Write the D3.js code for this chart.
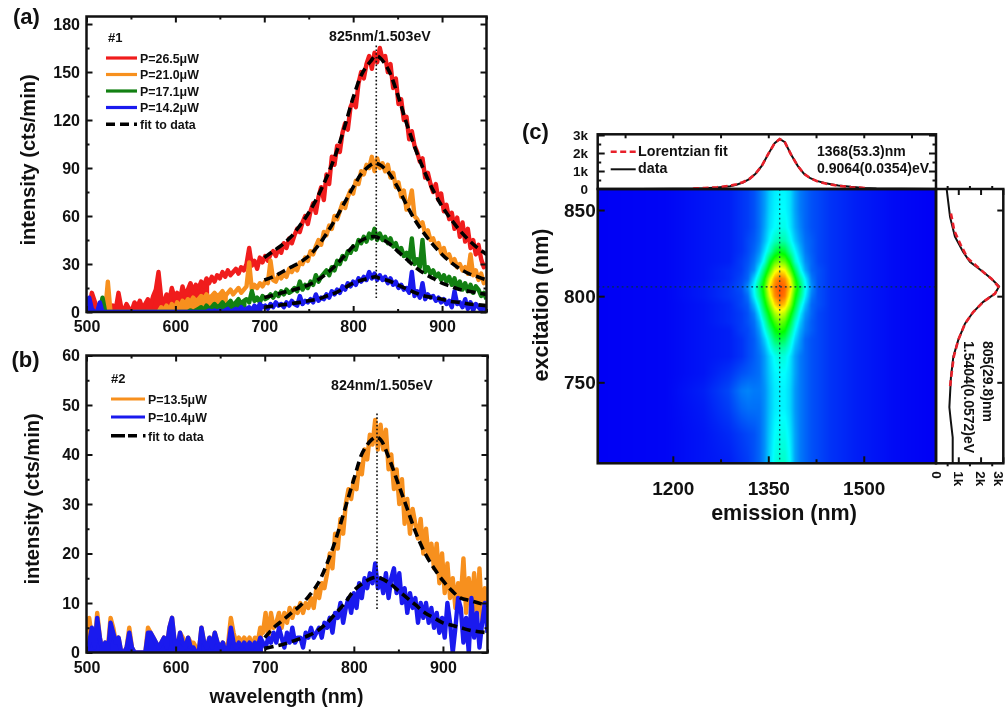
<!DOCTYPE html>
<meta charset="utf-8">
<style type="text/css">
html, body { margin: 0; padding: 0; background: #fff; overflow: hidden; }
svg { display: block; filter: blur(0.6px); }
text { font-family: "Liberation Sans", Arial, sans-serif; font-weight: bold; fill: #111; }
.axis path.domain { display: none; }
.axis line { stroke: #111; stroke-width: 2px; }
.frame { fill: none; stroke: #111; stroke-width: 2.5px; }
.noisy { fill: none; stroke-width: 4.4px; stroke-linejoin: round; }
.fit { fill: none; stroke: #000; stroke-width: 3.6px; stroke-dasharray: 9 5; }
.dotted { fill: none; stroke: #111; stroke-width: 1.6px; stroke-dasharray: 1.6 2.2; }
</style>
<body>
<script src="https://cdn.jsdelivr.net/npm/d3@7"></script>
<script>

// wavelengths of the measured spectra, every 3 nm from 500 to 950
var wavelengths = d3.range(500, 951, 3);
var fitWavelengths = [700,710,720,730,740,750,760,770,780,790,800,810,820,825,830,840,850,860,870,880,890,900,910,920,930,940,950];

// panel (a)
var red265 = [
  0,3,12,7,2,5,1,6,3,1,
  4,2,12,3,1,5,2,1,6,3,
  7,2,5,8,4,10,14,25,9,6,
  11,7,15,9,12,7,16,10,14,18,
  13,17,15,19,16,21,18,22,19,23,
  21,25,22,26,23,25,27,24,28,26,
  30,40,29,32,27,34,31,35,32,36,
  38,35,40,37,43,40,46,43,48,52,
  50,56,60,55,63,68,62,72,78,70,
  86,80,97,92,104,100,112,118,114,128,
  132,128,143,150,146,155,160,152,162,156,
  165,158,160,150,155,140,146,130,133,120,
  122,108,113,104,100,94,96,84,87,80,
  75,80,70,74,63,67,58,62,52,59,
  47,56,44,52,40,45,36,42,33,28,
  30];
var orange210 = [
  0,0,0,0,0,0,0,0,19,0,
  0,0,0,0,0,0,0,0,0,0,
  0,0,0,0,0,0,0,0,3,1,
  4,1,5,2,6,3,7,5,8,6,
  9,7,8,10,8,11,9,10,12,10,
  11,13,10,12,14,11,13,15,12,14,
  16,31,14,17,15,18,16,19,18,32,
  20,19,23,21,24,22,27,25,28,26,
  31,30,34,32,38,36,41,45,42,50,
  48,54,52,60,58,63,68,65,72,76,
  74,82,80,88,86,92,90,97,88,96,
  90,93,88,92,84,87,78,81,72,76,
  64,68,76,60,58,54,56,49,51,45,
  46,41,43,37,40,34,36,31,33,28,
  30,26,28,24,36,23,26,20,24,18,
  19];
var green171 = [
  0,0,0,0,0,0,9,0,0,0,
  0,0,0,0,0,0,0,0,0,0,
  0,0,0,0,0,0,0,0,0,0,
  0,0,0,0,0,0,0,0,0,1,
  0,1,2,3,1,4,2,3,5,3,
  4,6,3,5,7,4,6,8,5,7,
  8,6,13,7,9,6,10,8,9,11,
  9,12,10,13,11,14,12,13,15,13,
  19,14,17,15,19,17,23,19,22,24,
  26,23,28,26,32,30,35,33,38,37,
  41,39,45,43,47,44,49,46,52,45,
  49,45,47,43,46,41,43,38,40,35,
  37,32,46,30,33,28,45,25,28,24,
  26,22,24,20,23,19,22,17,21,15,
  19,14,18,13,17,12,16,14,10,12,
  8];
var blue142 = [
  0,9,2,0,0,6,0,0,0,0,
  0,0,0,0,0,0,0,0,0,0,
  0,0,0,0,0,0,0,0,0,0,
  0,0,0,0,0,0,0,0,0,0,
  0,0,0,0,0,0,1,0,1,0,
  1,0,1,2,0,1,2,1,3,1,
  2,3,1,4,2,5,3,4,2,5,
  3,6,4,5,3,6,4,7,5,4,
  10,5,7,6,8,6,11,7,9,8,
  11,9,13,11,14,12,16,14,18,16,
  19,17,21,19,22,20,25,21,24,20,
  23,20,22,18,21,17,19,15,17,14,
  15,12,25,10,13,9,18,8,11,9,
  10,7,9,6,8,5,7,3,13,5,
  6,3,8,2,6,1,5,3,1,3,
  1];
var fitRed = [34,38,42,47,54,62,72,84,98,115,134,149,157,160,159,151,136,118,102,88,76,66,58,51,45,40,36];
var fitOrange = [20,22,25,28,31,35,41,49,58,68,78,87,92,93,92,87,78,67,57,49,42,36,31,27,24,22,20];
var fitGreen = [9,10.5,12,13.5,15,17,20,24,29,35,41,45,47,47,46,43,38,33,28,24,21,18,16,14,13,12,11];
var fitBlue = [3,3.8,4.5,5.2,6,7,8,10,12,15,18,20,21.5,22,21,19.5,17,14.5,12,10,9,8,6.5,6,5,4.5,4];

// panel (b)
var orange135 = [
  0,7,3,1,8,3,0,2,1,7,
  5,2,3,0,0,1,5,1,0,0,
  0,0,0,5,4,3,2,1,2,3,
  1,5,7,2,1,4,3,1,3,2,
  2,1,0,5,2,1,3,2,4,2,
  1,2,1,2,7,4,2,3,2,3,
  2,3,1,3,2,5,4,8,3,8,
  5,6,8,5,8,6,9,7,9,8,
  10,8,10,9,11,9,13,11,14,13,
  16,20,17,24,21,27,24,30,33,31,
  35,33,38,36,41,39,44,42,47,41,
  46,41,45,37,40,33,37,30,35,26,
  31,24,29,26,23,27,20,25,19,22,
  17,22,14,20,12,18,11,15,9,14,
  11,19,8,15,9,16,7,17,6,13,
  10];
var blue104 = [
  0,2,5,1,7,3,0,2,0,6,
  4,2,3,0,0,1,4,1,0,0,
  0,0,0,4,4,3,2,1,2,3,
  1,5,7,2,1,4,2,1,3,1,
  1,0,0,5,2,1,3,1,4,2,
  1,2,0,1,5,2,1,2,1,2,
  1,2,1,2,1,3,2,1,3,2,
  4,2,5,3,1,4,2,5,2,3,
  3,1,4,3,5,3,4,5,3,6,
  5,7,4,8,7,10,6,9,11,8,
  12,9,14,11,15,13,16,14,18,13,
  15,12,16,11,15,17,12,16,10,13,
  8,12,9,11,6,10,7,10,6,9,
  5,8,4,7,3,10,6,0,5,11,
  9,2,7,0,11,3,8,1,6,10,
  4];
var fitOrangeB = [3,5,6.5,8,9.5,11.5,14,18,23,29,35,40.5,43,43.5,43,39,34,29,24,20,17,14.5,12.5,11,10.5,10,9.5];
var fitBlueB = [0.8,1.2,1.6,2.2,2.8,3.5,4.5,6,8,10,12.5,14,15,15.2,15,14,12.5,11,9.5,8,7,6,5.5,5,4.5,4.2,4];

// panel (c) line profiles, counts in thousands
var emissionPoints = [1100,1150,1200,1230,1250,1270,1290,1300,1310,1320,1330,1340,1350,1360,1368,1376,1386,1396,1406,1416,1426,1440,1460,1480,1500,1520,1560,1610];
var emissionData = [0,0,0.01,0.02,0.04,0.08,0.15,0.24,0.36,0.55,0.85,1.3,1.95,2.55,2.78,2.6,1.9,1.3,0.85,0.6,0.45,0.32,0.2,0.12,0.06,0.03,0.01,0];
var fitEmissionPoints = [1232,1250,1270,1290,1300,1310,1320,1330,1340,1350,1360,1368,1376,1386,1396,1406,1416,1426,1440,1460,1480,1505];
var fitEmission = [0.03,0.05,0.1,0.18,0.27,0.38,0.55,0.85,1.3,1.95,2.55,2.78,2.6,1.9,1.3,0.85,0.6,0.44,0.3,0.18,0.1,0.05];
var excitationPoints = [862,846,834.5,825.7,820,814,810,805.6,801.5,796.7,790.8,784,774.6,765,753,735.5,728,718,703];
var excitationData = [0.48,0.63,0.85,1.22,1.52,2.12,2.5,2.83,2.65,2.12,1.67,1.3,1,0.78,0.67,0.6,0.66,0.75,0.75];
var fitExcitationPoints = [848,838,830,822,814,810,805.6,801.5,796.7,790.8,784,774.6,765,755,746];
var fitExcitation = [0.67,0.82,1.1,1.42,2.12,2.5,2.8,2.65,2.12,1.67,1.3,1,0.8,0.7,0.62];

// panel (c) map, one row per excitation wavelength, one value per emission wavelength
var emissionGrid = [1088,1188,1248,1288,1308,1318,1328,1336,1344,1352,1360,1368,1376,1384,1392,1400,1408,1418,1428,1448,1488,1548,1608];
var excitationGrid = [865,850,840,832,826,820,815,810,805,800,795,790,785,780,775,770,765,755,745,735,720,705];
var heatRows = [
  [0,.5,2,3,5,6,8,11,15,20,23,24,24,22,16,12,10,8,7,5,3,1,0],
  [0,.5,2,3,5,6,8,11,15,21,24,25,25,22,16,12,10,8,7,5,3,1,0],
  [0,.5,2,3,5,6,8,11,16,22,25,27,27,23,17,13,10,8,7,5,3,1,0],
  [0,.5,2,3,5,7,9,12,18,25,31,34,33,27,20,15,11,9,7,5,3,1,0],
  [0,.5,2,3,5,7,10,14,22,31,42,48,45,34,25,18,12,9,7,5,3,1,0],
  [0,.5,2,3,6,8,12,18,28,46,58,63,60,48,30,22,14,10,7,5,3,1,0],
  [0,.5,2,4,6,9,14,25,40,56,72,78,75,60,42,27,17,10,8,5,3,1,0],
  [0,.5,2,4,7,10,21,33,50,70,84,89,86,74,52,36,24,12,8,5,3,1,0],
  [0,.5,2.5,5,8,14,26,40,56,78,88,92,90,80,58,42,27,14,8,5,3,1,0],
  [0,.5,2.5,5,7,11,24,36,52,72,86,91,88,74,52,38,24,12,8,5,3,1,0],
  [0,.5,2,4,7,9,18,29,46,62,78,84,80,66,46,30,19,10,8,5,3,1,0],
  [0,.5,2,4,6,8,13,23,38,52,66,72,68,54,38,24,15,10,7,5,3,1,0],
  [0,.5,2,4,6,8,11,18,30,45,56,62,58,46,30,20,13,9,7,5,3,1,0],
  [0,.5,2,3,6,7,10,15,25,36,48,53,50,38,25,17,12,9,7,5,3,1,0],
  [0,.5,2,3,5,7,9,13,20,29,40,44,41,31,21,15,10,8,7,5,3,1,0],
  [0,.5,2,3,5,7,9,12,17,25,32,35,33,27,18,14,10,8,7,5,3,1,0],
  [0,.5,2,3,5,7,9,11,15,21,26,29,28,23,16,12,10,8,7,5,3,1,0],
  [0,.5,2,5,8,9,10,11,15,20,24,25,25,22,16,12,10,8,7,5,3,1,0],
  [0,.5,3,7,12,13,12,12,14,19,23,24,24,21,15,12,10,8,7,5,3,1,0],
  [0,.5,2.5,6,10,11,11,11,14,19,23,24,24,21,15,12,10,8,7,5,3,1,0],
  [0,.5,2,4,6,7,8,10,14,20,25,27,27,23,16,12,10,8,7,5,3,1,0],
  [0,.5,2,3,5,6,8,10,14,21,27,30,30,25,16,12,10,8,7,5,3,1,0]
];

var svg = d3.select("body").append("svg")
    .attr("width", 1006)
    .attr("height", 711);

var defs = svg.append("defs");

function addClip(id, x, y, w, h) {
  defs.append("clipPath").attr("id", id)
    .append("rect").attr("x", x).attr("y", y).attr("width", w).attr("height", h);
}

// one set of ticks pointing into the frame: majors may carry labels, minors never do
function drawTicks(axisFn, scale, major, minor, pos, opts) {
  opts = opts || {};
  var horizontal = (axisFn === d3.axisBottom || axisFn === d3.axisTop);
  var tr = horizontal ? "translate(0," + pos + ")" : "translate(" + pos + ",0)";
  var g = svg.append("g").attr("class", "axis").attr("transform", tr);
  var ax = axisFn(scale).tickValues(major).tickSize(-(opts.size || 6)).tickPadding(opts.padding || 6);
  if (opts.format) ax.tickFormat(opts.format); else ax.tickFormat("");
  g.call(ax);
  g.selectAll("text").style("font-size", (opts.font || 16) + "px");
  if (minor) {
    var g2 = svg.append("g").attr("class", "axis").attr("transform", tr);
    g2.call(axisFn(scale).tickValues(minor).tickSize(-(opts.minorSize || 3)).tickFormat(""));
  }
  return g;
}

function spectrumPanel(x, y, xMinor, yMajor, yMinor, clipId) {
  var r = x.range(), t = y.range();
  addClip(clipId, r[0], t[1], r[1] - r[0], t[0] - t[1]);
  var plot = svg.append("g").attr("clip-path", "url(#" + clipId + ")");
  drawTicks(d3.axisBottom, x, [500,600,700,800,900], xMinor, t[0], {format: d3.format("d"), padding: 9});
  drawTicks(d3.axisTop, x, [500,600,700,800,900], xMinor, t[1]);
  drawTicks(d3.axisLeft, y, yMajor, yMinor, r[0], {format: d3.format("d"), padding: 6.5});
  drawTicks(d3.axisRight, y, yMajor, yMinor, r[1]);
  svg.append("rect").attr("class", "frame")
    .attr("x", r[0]).attr("y", t[1]).attr("width", r[1] - r[0]).attr("height", t[0] - t[1]);
  return plot;
}

// the dense low-count noise reads as a solid block in the original
function drawNoisy(plot, x, y, values, color, fillTo) {
  var pts = d3.zip(wavelengths, values);
  var line = d3.line().x(function(d) { return x(d[0]); }).y(function(d) { return y(d[1]); });
  if (fillTo) {
    var area = d3.area().x(function(d) { return x(d[0]); }).y0(y(0)).y1(function(d) { return y(d[1]); })
        .defined(function(d) { return d[0] <= fillTo; });
    plot.append("path").attr("fill", color).attr("d", area(pts));
  }
  plot.append("path").attr("class", "noisy").attr("stroke", color).attr("d", line(pts));
}

function addLabel(x, y, str, size, anchor, rotate) {
  var tx = svg.append("text").attr("text-anchor", anchor || "start").style("font-size", size + "px").text(str);
  if (rotate) tx.attr("transform", "translate(" + x + "," + y + ") rotate(" + rotate + ")");
  else tx.attr("x", x).attr("y", y);
  return tx;
}

function legendLine(x1, x2, y, color, cls) {
  var l = svg.append("line").attr("x1", x1).attr("x2", x2).attr("y1", y).attr("y2", y);
  if (cls) l.attr("class", cls).style("fill", "none");
  else l.attr("stroke", color).attr("stroke-width", 3.2);
  return l;
}

// ---- panel (a)
var xA = d3.scaleLinear().domain([500, 950]).range([86.5, 486.5]);
var yA = d3.scaleLinear().domain([0, 184.7]).range([312, 16.5]);
var plotA = spectrumPanel(xA, yA, [550,650,750,850,950], [0,30,60,90,120,150,180], [15,45,75,105,135,165], "clipA");

var lineA = d3.line().x(function(d) { return xA(d[0]); }).y(function(d) { return yA(d[1]); });
var fitA = d3.line().curve(d3.curveCatmullRom).x(function(d) { return xA(d[0]); }).y(function(d) { return yA(d[1]); });

drawNoisy(plotA, xA, yA, red265, "#f01c1c", 640);
drawNoisy(plotA, xA, yA, orange210, "#f7901e", 660);
drawNoisy(plotA, xA, yA, green171, "#128012", 680);
drawNoisy(plotA, xA, yA, blue142, "#1a1aee", 700);
[fitRed, fitOrange, fitGreen, fitBlue].forEach(function(f) {
  plotA.append("path").attr("class", "fit").attr("d", fitA(d3.zip(fitWavelengths, f)));
});
plotA.append("path").attr("class", "dotted").attr("d", lineA([[826, 8.75], [826, 167]]));

addLabel(13, 24, "(a)", 22);
addLabel(35, 160, "intensity (cts/min)", 20, "middle", -90);
addLabel(108, 42.3, "#1", 13);
addLabel(329, 40.5, "825nm/1.503eV", 14.2);
["P=26.5\u03bcW", "P=21.0\u03bcW", "P=17.1\u03bcW", "P=14.2\u03bcW"].forEach(function(t, i) {
  var ly = 58 + i * 16.5;
  legendLine(106, 137, ly, ["#f01c1c", "#f7901e", "#128012", "#1a1aee"][i]);
  addLabel(140, ly + 4.8, t, 12.4);
});
legendLine(106, 137, 124.3, null, "fit");
addLabel(140, 129, "fit to data", 12.4);

// ---- panel (b)
var xB = d3.scaleLinear().domain([500, 950]).range([86.5, 487.5]);
var yB = d3.scaleLinear().domain([0, 60]).range([652.5, 355.5]);
var plotB = spectrumPanel(xB, yB, [550,650,750,850,950], [0,10,20,30,40,50,60], [5,15,25,35,45,55], "clipB");

var lineB = d3.line().x(function(d) { return xB(d[0]); }).y(function(d) { return yB(d[1]); });
var fitB = d3.line().curve(d3.curveCatmullRom).x(function(d) { return xB(d[0]); }).y(function(d) { return yB(d[1]); });

drawNoisy(plotB, xB, yB, orange135, "#f7901e", 700);
drawNoisy(plotB, xB, yB, blue104, "#1a1aee", 700);
[fitOrangeB, fitBlueB].forEach(function(f) {
  plotB.append("path").attr("class", "fit").attr("d", fitB(d3.zip(fitWavelengths, f)));
});
plotB.append("path").attr("class", "dotted").attr("d", lineB([[826, 8.8], [826, 48.6]]));

addLabel(11.5, 366.7, "(b)", 22);
addLabel(39, 499, "intensity (cts/min)", 20, "middle", -90);
addLabel(286.5, 703, "wavelength (nm)", 19.5, "middle");
addLabel(111, 383, "#2", 13);
addLabel(331, 390, "824nm/1.505eV", 14.2);
legendLine(111, 145, 399, "#f7901e");
addLabel(148, 403.8, "P=13.5\u03bcW", 12.4);
legendLine(111, 145, 417, "#1a1aee");
addLabel(148, 421.8, "P=10.4\u03bcW", 12.4);
legendLine(111, 145.5, 435.7, null, "fit").style("stroke-dasharray", "14 3 9 6 3");
addLabel(148, 440.5, "fit to data", 12.4);

// ---- panel (c)
var xC = d3.scaleLinear().domain([1082, 1613.5]).range([597.7, 936]);
var yC = d3.scaleLinear().domain([703, 862.2]).range([463.3, 189]);
var yTop = d3.scaleLinear().domain([0, 3.04]).range([189, 134.3]);
var xRight = d3.scaleLinear().domain([0, 3.02]).range([936, 1003.3]);

var heatColor = d3.scaleLinear().domain([0, 25, 50, 75, 100])
    .range(["#0000f5", "#00ffff", "#00ff00", "#ffff00", "#ff0000"]);

// the grid is uneven, so look up each pixel's place in it and shade between the four nearest values
var colIndex = d3.scaleLinear().domain(emissionGrid).range(d3.range(emissionGrid.length)).clamp(true);
var rowIndex = d3.scaleLinear().domain(excitationGrid).range(d3.range(excitationGrid.length)).clamp(true);
var heatW = 338, heatH = 274;
var cv = document.createElement("canvas");
cv.width = heatW;
cv.height = heatH;
var ctx = cv.getContext("2d");
for (var py = 0; py < heatH; py++) {
  var fy = rowIndex(yC.invert(189 + py + 0.5));
  var j = Math.min(Math.floor(fy), excitationGrid.length - 2), ty = fy - j;
  for (var px = 0; px < heatW; px++) {
    var fx = colIndex(xC.invert(597.7 + px + 0.5));
    var i = Math.min(Math.floor(fx), emissionGrid.length - 2), tx = fx - i;
    var v = (heatRows[j][i] * (1 - tx) + heatRows[j][i + 1] * tx) * (1 - ty)
          + (heatRows[j + 1][i] * (1 - tx) + heatRows[j + 1][i + 1] * tx) * ty;
    ctx.fillStyle = heatColor(v);
    ctx.fillRect(px, py, 1, 1);
  }
}

svg.append("image")
    .attr("href", cv.toDataURL())
    .attr("preserveAspectRatio", "none")
    .attr("x", 597.7)
    .attr("y", 189)
    .attr("width", heatW)
    .attr("height", heatH);

svg.append("path").attr("class", "dotted").style("stroke-width", "1.1px").style("stroke-dasharray", "1.8 3").style("stroke", "#003a4a")
    .attr("d", d3.line()([[xC(1368), 189], [xC(1368), 463.3]]));
svg.append("path").attr("class", "dotted").style("stroke-width", "1.1px").style("stroke-dasharray", "1.8 3").style("stroke", "#00304a")
    .attr("d", d3.line()([[597.7, yC(805.4)], [936, yC(805.4)]]));

var kFormat = function(d) { return d === 0 ? "0" : d + "k"; };
var emMajor = [1125,1200,1275,1350,1425,1500,1575];

// top strip
drawTicks(d3.axisLeft, yTop, [1,2,3], [0.5,1.5,2.5], 597.7, {size: 7, minorSize: 3.5});
drawTicks(d3.axisRight, yTop, [1,2,3], [0.5,1.5,2.5], 936, {size: 7, minorSize: 3.5});
drawTicks(d3.axisTop, xC, emMajor, null, 134.3, {size: 4});
svg.append("rect").attr("class", "frame").attr("x", 597.7).attr("y", 134.3).attr("width", 338.3).attr("height", 54.7);
var topLabels = svg.append("g").attr("class", "axis").attr("transform", "translate(588,0)")
    .call(d3.axisLeft(yTop).tickValues([0,1,2,3]).tickSize(0).tickPadding(0).tickFormat(kFormat));
topLabels.selectAll("text").style("font-size", "13.5px");

var lineTop = d3.line().x(function(d) { return xC(d[0]); }).y(function(d) { return yTop(d[1]); });
svg.append("path").attr("fill", "none").attr("stroke", "#111").attr("stroke-width", 2)
    .attr("d", lineTop(d3.zip(emissionPoints, emissionData)));
svg.append("path").attr("fill", "none").attr("stroke", "#e8202a").attr("stroke-width", 2.6).attr("stroke-dasharray", "6 3.5")
    .attr("d", lineTop(d3.zip(fitEmissionPoints, fitEmission)));

// map frame
drawTicks(d3.axisBottom, xC, [1200,1350,1500], [1275,1425], 463.3, {format: d3.format("d"), padding: 18, font: 19, size: 7, minorSize: 4});
drawTicks(d3.axisLeft, yC, [750,800,850], null, 597.7, {format: d3.format("d"), padding: 2, font: 19, size: 7});
svg.append("rect").attr("class", "frame").attr("x", 597.7).attr("y", 189).attr("width", 338.3).attr("height", 274.3);

// right strip
drawTicks(d3.axisRight, yC, [750,800,850], null, 1003.3, {size: 6});
drawTicks(d3.axisTop, xRight, [1,2,3], [0.5,1.5,2.5], 463.3, {size: 6, minorSize: 3}).selectAll("line").attr("transform", "scale(1,-1)");
drawTicks(d3.axisBottom, xRight, [1,2,3], [0.5,1.5,2.5], 189, {size: 6, minorSize: 3}).selectAll("line").attr("transform", "scale(1,-1)");
svg.append("rect").attr("class", "frame").attr("x", 936).attr("y", 189).attr("width", 67.3).attr("height", 274.3);
var rightLabels = svg.append("g").attr("class", "axis").attr("transform", "translate(0,463.3)")
    .call(d3.axisBottom(xRight).tickValues([0,1,2,3]).tickSize(0).tickFormat(kFormat));
rightLabels.selectAll("text")
    .style("font-size", "13.5px")
    .attr("text-anchor", "start")
    .attr("transform", "rotate(90)")
    .attr("x", 8)
    .attr("y", function(d) { return d === 3 ? 5 : 0; })
    .attr("dy", ".35em");

var lineRight = d3.line().x(function(d) { return xRight(d[1]); }).y(function(d) { return yC(d[0]); });
svg.append("path").attr("fill", "none").attr("stroke", "#111").attr("stroke-width", 2)
    .attr("d", lineRight(d3.zip(excitationPoints, excitationData)));
svg.append("path").attr("fill", "none").attr("stroke", "#e8202a").attr("stroke-width", 2.6).attr("stroke-dasharray", "6 3.5")
    .attr("d", lineRight(d3.zip(fitExcitationPoints, fitExcitation)));

addLabel(522, 139, "(c)", 22);
addLabel(548, 305, "excitation (nm)", 21.5, "middle", -90);
addLabel(784, 520, "emission (nm)", 21.5, "middle");
addLabel(638, 155.5, "Lorentzian fit", 14.3);
addLabel(638, 173, "data", 14.3);
svg.append("line").attr("x1", 610.7).attr("x2", 635.7).attr("y1", 151.7).attr("y2", 151.7)
    .attr("stroke", "#e8202a").attr("stroke-width", 2.6).attr("stroke-dasharray", "6 3.5");
svg.append("line").attr("x1", 610.7).attr("x2", 635.7).attr("y1", 169.3).attr("y2", 169.3)
    .attr("stroke", "#111").attr("stroke-width", 2);
addLabel(817, 155.5, "1368(53.3)nm", 14);
addLabel(817, 173, "0.9064(0.0354)eV", 14);
addLabel(983, 341, "805(29.8)nm", 14, "start", 90);
addLabel(963.5, 341, "1.5404(0.0572)eV", 14, "start", 90);

</script>
</body>
